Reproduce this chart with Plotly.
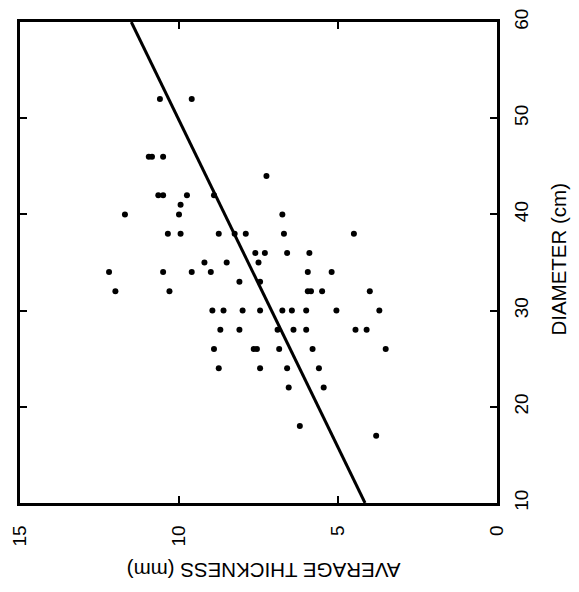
import plotly.graph_objects as go

# Scatter data: average thickness (mm) vs diameter (cm)
thickness = [10.6, 9.6,
             10.95, 10.85, 10.5,
             7.25,
             10.65, 10.5, 9.75, 8.9,
             9.95,
             11.7, 10.0, 6.75,
             10.35, 9.95, 8.75, 8.25, 7.9, 6.7, 4.5,
             7.6, 7.3, 6.6, 5.9,
             7.5, 9.2, 8.5,
             12.2, 10.5, 9.6, 9.0, 5.95, 5.2,
             8.1, 7.45,
             12.0, 10.3, 5.95, 5.85, 5.5, 4.0,
             8.95, 8.6, 8.0, 7.45, 6.75, 6.45, 6.0, 5.05, 3.7,
             8.7, 8.1, 6.9, 6.4, 6.0, 4.45, 4.1,
             8.9, 7.65, 7.55, 6.85, 5.8, 3.5,
             8.75, 7.45, 6.6, 5.6,
             6.55, 5.45,
             6.2,
             3.8]
diameter = [52, 52,
            46, 46, 46,
            44,
            42, 42, 42, 42,
            41,
            40, 40, 40,
            38, 38, 38, 38, 38, 38, 38,
            36, 36, 36, 36,
            35, 35, 35,
            34, 34, 34, 34, 34, 34,
            33, 33,
            32, 32, 32, 32, 32, 32,
            30, 30, 30, 30, 30, 30, 30, 30, 30,
            28, 28, 28, 28, 28, 28, 28,
            26, 26, 26, 26, 26, 26,
            24, 24, 24, 24,
            22, 22,
            18,
            17]

# Regression line end points
line_diameter = [10, 60]
line_thickness = [4.15, 11.5]

x_ticks = [15, 10, 5, 0]
y_ticks = [10, 20, 30, 40, 50, 60]

FONT = "Liberation Sans, Arial, sans-serif"

fig = go.Figure()
fig.add_trace(go.Scatter(x=line_thickness, y=line_diameter, mode="lines",
                         line=dict(color="black", width=3), hoverinfo="skip"))
fig.add_trace(go.Scatter(x=thickness, y=diameter, mode="markers",
                         marker=dict(color="black", size=6, line=dict(width=0))))

fig.update_layout(
    width=563, height=576,
    margin=dict(l=12, r=74, t=14, b=81, autoexpand=False),
    plot_bgcolor="white", paper_bgcolor="white",
    showlegend=False,
    font=dict(family=FONT, color="black", size=19),
    xaxis=dict(range=[15, 0], tickvals=x_ticks, ticktext=[str(v) for v in x_ticks],
               ticks="inside", ticklen=7, tickwidth=2, tickcolor="black",
               showline=True, linewidth=2.5, linecolor="black", mirror="ticks",
               showgrid=False, zeroline=False, tickangle=-90,
               ticklabelstandoff=12, automargin=False, ticklabeloverflow="allow"),
    yaxis=dict(range=[10, 60], tickvals=y_ticks, ticktext=[str(v) for v in y_ticks],
               side="right",
               ticks="inside", ticklen=7, tickwidth=2, tickcolor="black",
               showline=True, linewidth=2.5, linecolor="black", mirror="ticks",
               showgrid=False, zeroline=False, tickangle=-90,
               ticklabelstandoff=5, automargin=False, ticklabeloverflow="allow"),
    annotations=[
        dict(text="AVERAGE THICKNESS (mm)", xref="paper", yref="paper",
             x=0.51, y=-0.14, xanchor="center", yanchor="middle",
             textangle=180, showarrow=False, font=dict(size=20.5, family=FONT)),
        dict(text="DIAMETER (cm)", xref="paper", yref="paper",
             x=1.13, y=0.506, xanchor="center", yanchor="middle",
             textangle=-90, showarrow=False, font=dict(size=20.5, family=FONT)),
    ],
)

fig.write_html("out.html")
